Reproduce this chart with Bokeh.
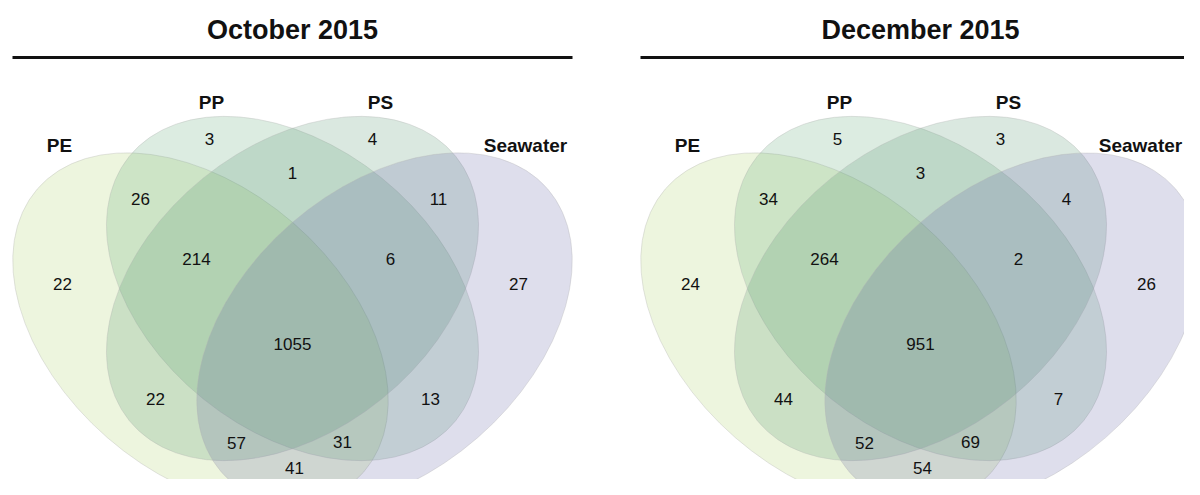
import math
from bokeh.plotting import figure
from bokeh.models import Range1d, ColumnDataSource
from bokeh.core.properties import value
from bokeh.embed import file_html
from bokeh.resources import INLINE

# ---------------- data ----------------
titles = ["October 2015", "December 2015"]
set_names = ["PE", "PP", "PS", "Seawater"]
regions = ["PE", "PP", "PS", "Seawater",
           "PE&PP", "PP&PS", "PS&Seawater",
           "PE&PP&PS", "PP&PS&Seawater", "PE&PP&PS&Seawater",
           "PE&PS", "PP&Seawater",
           "PE&PS&Seawater", "PE&PP&Seawater", "PE&Seawater"]
counts_oct = [22, 3, 4, 27, 26, 1, 11, 214, 6, 1055, 22, 13, 57, 31, 41]
counts_dec = [24, 5, 3, 26, 34, 3, 4, 264, 2, 951, 44, 7, 52, 69, 54]
panel_counts = [counts_oct, counts_dec]

# ---------------- layout / style ----------------
set_colors = ["#A5CD5A", "#50A069", "#468C64", "#5A5AA0"]
fill_alpha = 0.2
panel_centers = [292, 920]
# ellipse geometry relative to each panel's centre: dx, y, semi-major, semi-minor, angle(deg)
ellipse_geom = {
    "PE": (-92, 330, 216, 142, -41),
    "PP": (0, 288, 210, 142, -39),
    "PS": (0, 288, 210, 142, 39),
    "Seawater": (92, 330, 216, 142, 41),
}
region_pos = {
    "PE": (-230, 283), "PP": (-83, 138), "PS": (80, 138), "Seawater": (226, 283),
    "PE&PP": (-152, 198), "PP&PS": (0, 172), "PS&Seawater": (146, 198),
    "PE&PP&PS": (-96, 258), "PP&PS&Seawater": (98, 258), "PE&PP&PS&Seawater": (0, 343),
    "PE&PS": (-137, 398), "PP&Seawater": (138, 398),
    "PE&PS&Seawater": (-56, 442), "PE&PP&Seawater": (50, 441), "PE&Seawater": (2, 467),
}
set_label_pos = [
    {"PE": (-233, 145), "PP": (-81, 102), "PS": (88, 102), "Seawater": (233, 145)},
    {"PE": (-233, 145), "PP": (-81, 102), "PS": (88, 102), "Seawater": (220, 145)},
]
title_y = 29
rule_y = 57
rule_half = 280
FONT = value("Liberation Sans")

p = figure(width=1184, height=479, x_range=Range1d(0, 1184), y_range=Range1d(479, 0),
           output_backend="svg", toolbar_location=None, min_border=0)
p.axis.visible = False
p.grid.visible = False
p.outline_line_color = None
p.background_fill_color = "white"

for k, cx in enumerate(panel_centers):
    # ellipses
    for i, s in enumerate(set_names):
        dx, y, a, b, ang = ellipse_geom[s]
        p.ellipse(x=[cx + dx], y=[y], width=[2 * a], height=[2 * b], angle=[math.radians(ang)],
                  fill_color=set_colors[i], fill_alpha=fill_alpha,
                  line_color="#B4B4B4", line_alpha=0.35, line_width=1)
    # region counts
    src = ColumnDataSource(dict(
        x=[cx + region_pos[r][0] for r in regions],
        y=[region_pos[r][1] for r in regions],
        t=[str(v) for v in panel_counts[k]],
    ))
    p.text(x="x", y="y", text="t", source=src, text_align="center", text_baseline="middle",
           text_font=FONT, text_font_size="17px", text_color="#111111")
    # set labels
    lsrc = ColumnDataSource(dict(
        x=[cx + set_label_pos[k][s][0] for s in set_names],
        y=[set_label_pos[k][s][1] for s in set_names],
        t=set_names,
    ))
    p.text(x="x", y="y", text="t", source=lsrc, text_align="center", text_baseline="middle",
           text_font=FONT, text_font_style="bold", text_font_size="19px", text_color="#111111")
    # title + rule
    p.text(x=[cx], y=[title_y], text=[titles[k]], text_align="center", text_baseline="middle",
           text_font=FONT, text_font_style="bold", text_font_size="27px", text_color="#111111")
    p.segment(x0=[cx - rule_half], y0=[rule_y], x1=[cx + rule_half], y1=[rule_y],
              line_color="#111111", line_width=3)

open("out.html", "w").write(file_html(p, INLINE))
